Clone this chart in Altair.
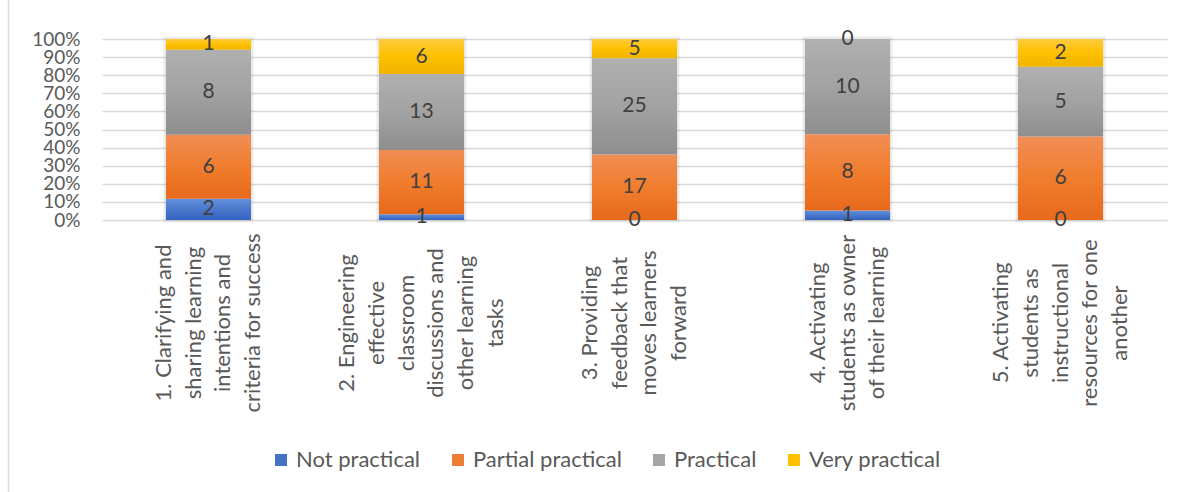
import altair as alt
import pandas as pd

# ---- data ----
categories = [
    "1. Clarifying and|sharing learning|intentions and|criteria for success",
    "2. Engineering|effective|classroom|discussions and|other learning|tasks",
    "3. Providing|feedback that|moves learners|forward",
    "4. Activating|students as owner|of their learning",
    "5. Activating|students as|instructional|resources for one|another",
]
series = ["Not practical", "Partial practical", "Practical", "Very practical"]
not_practical = [2, 1, 0, 1, 0]
partial_practical = [6, 11, 17, 8, 6]
practical = [8, 13, 25, 10, 5]
very_practical = [1, 6, 5, 0, 2]
y_ticks = [0, 0.1, 0.2, 0.3, 0.4, 0.5, 0.6, 0.7, 0.8, 0.9, 1.0]

colors = ["#4472C4", "#ED7D31", "#A5A5A5", "#FFC000"]
gradients = [
    ["#6391DB", "#4A78CB", "#3462C2"],
    ["#F18D55", "#F07D2D", "#E7691C"],
    ["#B0B0B0", "#A2A2A2", "#8E8E8E"],
    ["#FFCB3D", "#FFC000", "#F0B400"],
]

rows = []
for s_i, (name, vals) in enumerate(zip(series, [not_practical, partial_practical, practical, very_practical])):
    for c, v in zip(categories, vals):
        rows.append({"category": c, "series": name, "value": v, "order": s_i})
df = pd.DataFrame(rows)

# one row per wrapped line of each category label
line_rows = []
for c_i, c in enumerate(categories):
    parts = c.split("|")
    for l_i, t in enumerate(parts):
        line_rows.append({"cat_index": c_i, "line_index": l_i, "n_lines": len(parts), "line": t})
lines_df = pd.DataFrame(line_rows)

FONT = "Lato"
LABEL_COLOR = "#595959"
LINE_STEP = 0.139  # spacing of wrapped label lines, in category steps


def grad(stops):
    return {
        "gradient": "linear", "x1": 0, "y1": 0, "x2": 0, "y2": 1,
        "stops": [
            {"offset": 0, "color": stops[0]},
            {"offset": 0.5, "color": stops[1]},
            {"offset": 1, "color": stops[2]},
        ],
    }


conditions = [
    {"test": f"datum.series === '{s}'", "value": grad(g)} for s, g in zip(series, gradients)
]

base = alt.Chart(df).transform_stack(
    stack="value",
    groupby=["category"],
    as_=["y0", "y1"],
    offset="normalize",
    sort=[alt.SortField("order", "ascending")],
).transform_calculate(mid="(datum.y0 + datum.y1) / 2")

x_scale = alt.Scale(paddingInner=0.6, paddingOuter=0.3)
y_scale = alt.Scale(domain=[0, 1])
y_axis = alt.Axis(
    title=None,
    values=y_ticks,
    format=".0%",
    grid=True,
    gridColor="#d9d9d9",
    gridWidth=1.5,
    domain=False,
    ticks=False,
    labelPadding=22,
    labelOverlap=False,
    labelFontSize=19,
    labelColor=LABEL_COLOR,
)

# soft shadow around each column
shadow = base.transform_aggregate(
    top="max(y1)", bottom="min(y0)", groupby=["category"]
).mark_bar(fill=None, stroke="#000000", strokeOpacity=0.07, strokeWidth=5).encode(
    x=alt.X("category:N", sort=categories, scale=x_scale, axis=None),
    y=alt.Y("bottom:Q", scale=y_scale, axis=y_axis),
    y2="top:Q",
)

bars = base.mark_bar().encode(
    x=alt.X("category:N", sort=categories, scale=x_scale, axis=None),
    y=alt.Y("y0:Q", scale=y_scale, axis=y_axis),
    y2="y1:Q",
    color=alt.Color(
        "series:N",
        scale=alt.Scale(domain=series, range=colors),
        condition=conditions,
        legend=alt.Legend(
            title=None,
            orient="none",
            legendX=168,
            legendY=410,
            direction="horizontal",
            columns=4,
            columnPadding=26,
            symbolType="square",
            symbolSize=144,
            symbolStrokeWidth=0,
            labelOffset=4,
            labelFontSize=22,
            labelColor=LABEL_COLOR,
        ),
    ),
)

values = base.mark_text(fontSize=21, color="#404040", baseline="middle").encode(
    x=alt.X("category:N", sort=categories, scale=x_scale, axis=None),
    y=alt.Y("mid:Q", scale=y_scale, axis=y_axis),
    text=alt.Text("value:Q"),
)

frame_df = pd.DataFrame({"a": [0]})
frame = alt.Chart(frame_df).mark_rule(color="#d9d9d9", strokeWidth=1.5).encode(
    x=alt.value(-93.5), y=alt.value(-39), y2=alt.value(453)
)

cat_labels = alt.Chart(lines_df).transform_calculate(
    pos=f"datum.cat_index + 0.5 + (datum.line_index - (datum.n_lines - 1) / 2) * {LINE_STEP}"
).mark_text(
    angle=270, align="center", baseline="middle", fontSize=22, color=LABEL_COLOR
).encode(
    x=alt.X("pos:Q", scale=alt.Scale(domain=[0, len(categories)], nice=False, zero=False), axis=None),
    y=alt.value(284),
    text="line:N",
)

main = alt.layer(frame, shadow, bars, values)
chart = alt.layer(main, cat_labels).resolve_scale(x="independent").properties(
    width=1065,
    height=181,
    autosize=alt.AutoSizeParams(type="none"),
    padding={"left": 102, "top": 39, "right": 21, "bottom": 272},
).configure(font=FONT).configure_view(stroke=None)

chart.save("out.html", embed_options={"renderer": "svg", "actions": False})
